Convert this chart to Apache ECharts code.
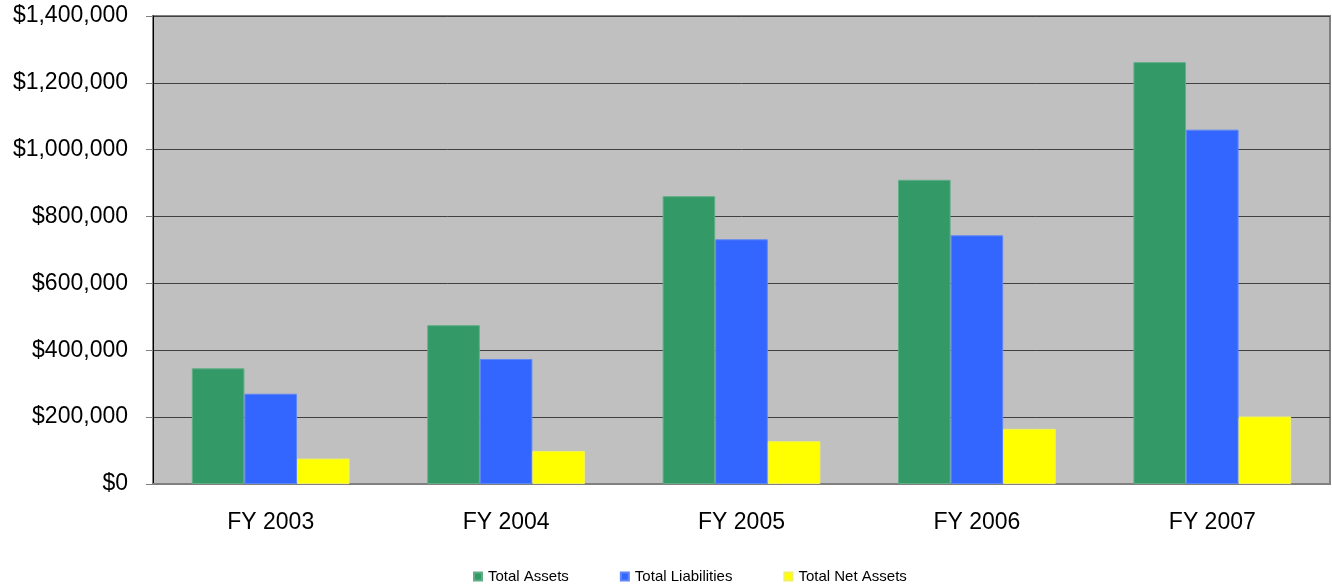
<!DOCTYPE html>
<html>
<head>
<meta charset="utf-8">
<script src="https://cdn.jsdelivr.net/npm/echarts@6/dist/echarts.min.js"></script>
<style>
  html, body { margin: 0; padding: 0; background: #ffffff; }
  #chart { width: 1332px; height: 587px; }
</style>
</head>
<body>
<div id="chart"></div>
<script>
// Fiscal years shown along the horizontal axis
const years = ['FY 2003', 'FY 2004', 'FY 2005', 'FY 2006', 'FY 2007'];

// Balance sheet figures, in dollars
const totalAssets = [346000, 475000, 861000, 910000, 1262000];
const totalLiabilities = [270000, 374000, 732000, 744000, 1060000];
const totalNetAssets = [76000, 99000, 128000, 165000, 202000];

// Value axis range and step
const yMin = 0;
const yMax = 1400000;
const yStep = 200000;

const FONT = 'Liberation Sans, Arial, sans-serif';

function money(v) {
  return '$' + v.toString().replace(/\B(?=(\d{3})+(?!\d))/g, ',');
}

function barSeries(name, data, color, edge) {
  return {
    name: name,
    type: 'bar',
    data: data,
    barGap: '0%',
    barCategoryGap: '33%',
    itemStyle: { color: color, borderColor: edge, borderWidth: 1 },
    emphasis: { disabled: true }
  };
}

const chart = echarts.init(document.getElementById('chart'), null, { renderer: 'canvas' });

chart.setOption({
  animation: false,
  backgroundColor: '#ffffff',
  textStyle: { fontFamily: FONT },
  grid: {
    left: 153,
    right: 2,
    top: 16,
    bottom: 103,
    show: true,
    backgroundColor: '#C0C0C0',
    borderColor: '#808080',
    borderWidth: 2
  },
  legend: {
    data: ['Total Assets', 'Total Liabilities', 'Total Net Assets'],
    left: 473,
    top: 569,
    padding: 0,
    itemWidth: 8,
    itemHeight: 8,
    itemGap: 51,
    icon: 'rect',
    textStyle: { fontFamily: FONT, fontSize: 15, color: '#000000', padding: [0, 0, 0, 1] }
  },
  xAxis: {
    type: 'category',
    data: years,
    axisLine: { show: true, lineStyle: { color: '#808080', width: 2 } },
    axisTick: { show: false },
    axisLabel: { fontFamily: FONT, fontSize: 23, color: '#000000', margin: 27 },
    splitLine: { show: false }
  },
  yAxis: {
    type: 'value',
    min: yMin,
    max: yMax,
    interval: yStep,
    axisLine: { show: true, lineStyle: { color: '#000000', width: 1 } },
    axisTick: { show: true, length: 7, lineStyle: { color: '#808080', width: 1 } },
    axisLabel: {
      fontFamily: FONT,
      fontSize: 23,
      color: '#000000',
      margin: 25,
      formatter: money
    },
    splitLine: { show: true, lineStyle: { color: '#404040', width: 1 } }
  },
  series: [
    barSeries('Total Assets', totalAssets, '#339966', '#5fae86'),
    barSeries('Total Liabilities', totalLiabilities, '#3366FF', '#5f86f5'),
    barSeries('Total Net Assets', totalNetAssets, '#FFFF00', '#f0f060')
  ]
});
</script>
</body>
</html>
